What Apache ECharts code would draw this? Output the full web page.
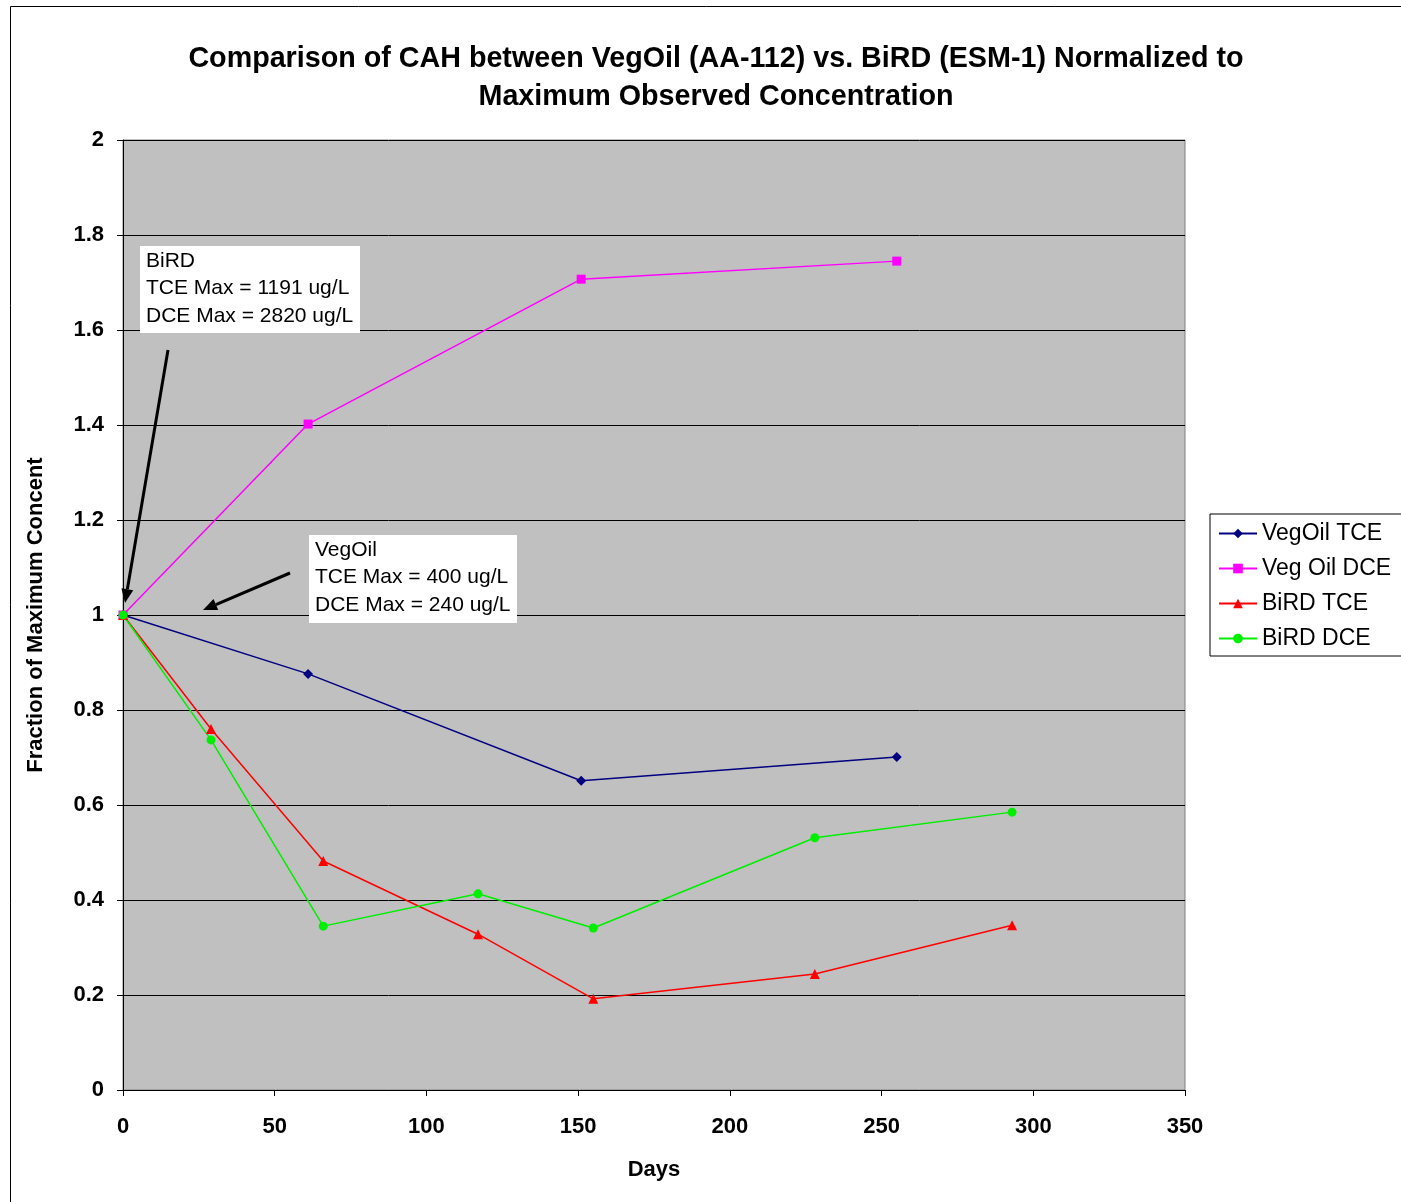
<!DOCTYPE html>
<html><head><meta charset="utf-8">
<script src="https://cdn.jsdelivr.net/npm/echarts@6/dist/echarts.min.js"></script>
<style>html,body{margin:0;padding:0;background:#fff}#c{width:1401px;height:1202px}</style>
</head><body><div id="c"></div>
<script>
const titleText = 'Comparison of CAH between VegOil (AA-112) vs. BiRD (ESM-1) Normalized to\nMaximum Observed Concentration';
const vegOilTCE = [[0,1.0],[61,0.876],[151,0.651],[255,0.701]];
const vegOilDCE = [[0,1.0],[61,1.402],[151,1.707],[255,1.745]];
const birdTCE = [[0,1.0],[29,0.760],[66,0.482],[117,0.328],[155,0.192],[228,0.244],[293,0.347]];
const birdDCE = [[0,1.0],[29,0.737],[66,0.345],[117,0.413],[155,0.341],[228,0.531],[293,0.585]];
const birdNote = ['BiRD','TCE Max = 1191 ug/L','DCE Max = 2820 ug/L'];
const vegNote = ['VegOil','TCE Max = 400 ug/L','DCE Max = 240 ug/L'];

const font = '"Liberation Sans", Arial, sans-serif';
const chart = echarts.init(document.getElementById('c'));
function mk(name, data, color, symbol, size) {
  return { name, type: 'line', data, symbol, symbolSize: size, showSymbol: true,
    lineStyle: { color, width: 1.5 }, itemStyle: { color }, animation: false, z: 3 };
}
function arrow(x1,y1,x2,y2){
  const a = Math.atan2(y2-y1,x2-x1), L=14, W=6;
  const bx = x2 - L*Math.cos(a), by = y2 - L*Math.sin(a);
  const px = -Math.sin(a)*W, py = Math.cos(a)*W;
  return [
    { type:'line', shape:{x1,y1,x2:bx,y2:by}, style:{stroke:'#000',lineWidth:3}, z:10 },
    { type:'polygon', shape:{points:[[x2,y2],[bx+px,by+py],[bx-px,by-py]]}, style:{fill:'#000'}, z:10 }
  ];
}
function note(x,y,w,h,lines){
  return [
    { type:'rect', shape:{x,y,width:w,height:h}, style:{fill:'#fff'}, z:9 },
    { type:'text', left:x+6, top:y+1, style:{ text: lines.join('\n'), font:'21px '+font, lineHeight:27.5, fill:'#000' }, z:11 }
  ];
}
chart.setOption({
  animation: false,
  backgroundColor: '#fff',
  title: { text: titleText, left: 711, top: 35, textAlign: 'center',
    textStyle: { fontFamily: font, fontSize: 28.7, fontWeight: 'bold', color: '#000', lineHeight: 38 } },
  grid: { left: 123, top: 140, right: 216, bottom: 112, show: true, backgroundColor: '#c0c0c0', borderColor: '#808080', borderWidth: 1 },
  legend: { orient: 'vertical', left: 1210, top: 514, backgroundColor: '#fff', borderColor: '#000', borderWidth: 1,
    padding: [8, 20, 6, 8], itemGap: 12, itemWidth: 38, itemHeight: 12,
    textStyle: { fontFamily: font, fontSize: 23, color: '#000' },
    data: ['VegOil TCE','Veg Oil DCE','BiRD TCE','BiRD DCE'] },
  xAxis: { type: 'value', min: 0, max: 350, interval: 50, name: 'Days', nameLocation: 'middle', nameGap: 69,
    nameTextStyle: { fontFamily: font, fontSize: 22, fontWeight: 'bold', color: '#000' },
    axisLine: { lineStyle: { color: '#000' } }, axisTick: { show: true, length: 6, lineStyle: { color: '#000' } },
    axisLabel: { fontFamily: font, fontSize: 22, fontWeight: 'bold', color: '#000', margin: 26 },
    splitLine: { show: false } },
  yAxis: { type: 'value', min: 0, max: 2, interval: 0.2, name: 'Fraction of Maximum Concent', nameLocation: 'middle', nameGap: 76,
    nameTextStyle: { fontFamily: font, fontSize: 22, fontWeight: 'bold', color: '#000' },
    axisLine: { show: true, lineStyle: { color: '#000' } }, axisTick: { show: true, length: 6, lineStyle: { color: '#000' } },
    axisLabel: { fontFamily: font, fontSize: 22, fontWeight: 'bold', color: '#000', margin: 19,
      formatter: v => String(Math.round(v*10)/10) },
    splitLine: { show: true, lineStyle: { color: '#000', width: 1 } } },
  series: [
    mk('VegOil TCE', vegOilTCE, '#000080', 'diamond', 10),
    mk('Veg Oil DCE', vegOilDCE, '#ff00ff', 'rect', 9),
    mk('BiRD TCE', birdTCE, '#ff0000', 'triangle', 10),
    mk('BiRD DCE', birdDCE, '#00ee00', 'circle', 9)
  ],
  graphic: [
    { type:'rect', shape:{x:10.5,y:6.5,width:1400,height:1200}, style:{fill:null, stroke:'#000', lineWidth:1}, z:0 },
    ...note(140,246,220,87,birdNote),
    ...note(309,535,208,88,vegNote),
    ...arrow(168,350,125,603),
    ...arrow(290,573,203,610)
  ]
});
</script></body></html>
